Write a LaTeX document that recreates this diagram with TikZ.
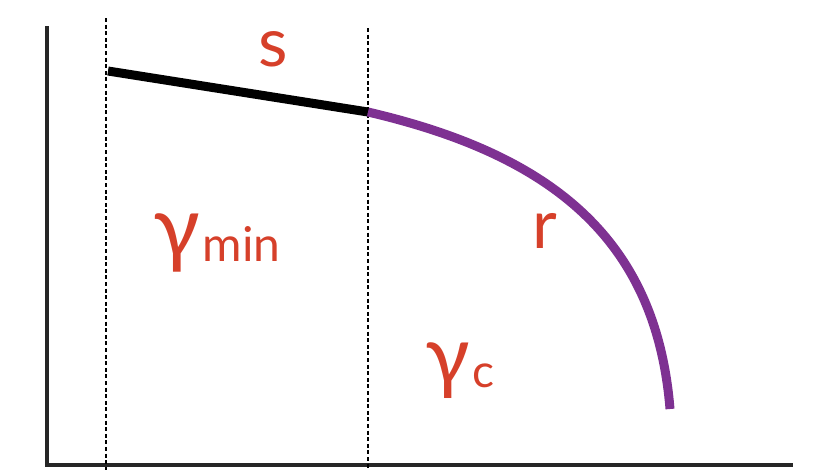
\documentclass[tikz,border=0pt]{standalone}
\usepackage{fontspec}
\setmainfont{Lato}
\definecolor{lblred}{HTML}{D6402A}
\definecolor{arcpurple}{HTML}{7E3192}
\begin{document}
\begin{tikzpicture}[x=1pt,y=-1pt,
  axisline/.style={line width=3.2pt,black!85},
  guideline/.style={line width=2.8pt,black,dash pattern=on 4pt off 2.6pt},
  segline/.style={line width=9pt,black},
  arcline/.style={line width=9pt,arcpurple},
  lbl/.style={text=lblred,inner sep=0pt,font=\fontsize{68}{68}\selectfont}]
\useasboundingbox (0,0) rectangle (820,475);
% axes
\coordinate (ytop) at (47,26);
\coordinate (orig) at (47,465);
\coordinate (xend) at (793,465);
\draw[axisline] (ytop) -- (orig) -- (xend);
% dotted guides
\coordinate (g1t) at (106,18);
\coordinate (g1b) at (106,470);
\coordinate (g2t) at (368,28);
\coordinate (g2b) at (368,470);
\draw[guideline] (g1t) -- (g1b);
\draw[guideline] (g2t) -- (g2b);
% segment s
\coordinate (sA) at (108,71);
\coordinate (sB) at (368,112);
\draw[segline] (sA) -- (sB);
% arc r
\coordinate (rEnd) at (670,409);
\draw[arcline] (sB) .. controls (548,154) and (656,236) .. (rEnd);
% labels
\node[lbl] (lblS) at (273,49) {s};
\node[lbl] (lblR) at (545,231) {r};
\node[lbl,anchor=base west] (lblGmin) at (153,257) {\fontsize{86}{86}\selectfont γ\kern3pt\fontsize{48}{48}\selectfont\raisebox{-4pt}{min}};
\node[lbl,anchor=base west] (lblGc) at (425,384) {\fontsize{82}{82}\selectfont γ\kern3pt\fontsize{46}{46}\selectfont\raisebox{-3pt}{c}};
\end{tikzpicture}
\end{document}
